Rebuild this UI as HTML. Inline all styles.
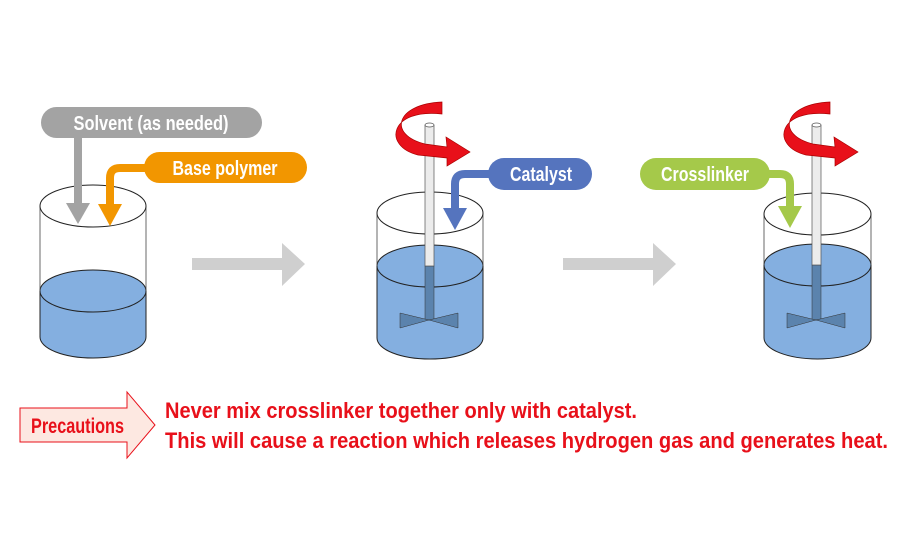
<!DOCTYPE html>
<html><head><meta charset="utf-8"><style>html,body{margin:0;padding:0;background:#fff}svg{display:block}text{font-family:"Liberation Sans Narrow","Liberation Sans",sans-serif;font-weight:bold}</style></head><body>
<svg width="900" height="550" viewBox="0 0 900 550" xmlns="http://www.w3.org/2000/svg">
<!-- Beaker 1 -->
<path d="M40,291 L40,337 A53,21 0 0 0 146,337 L146,291 Z" fill="#84afe0" stroke="#222" stroke-width="1"/>
<ellipse cx="93" cy="291" rx="53" ry="21" fill="#84afe0" stroke="#222" stroke-width="1"/>
<line x1="40" y1="206" x2="40" y2="291" stroke="#444" stroke-width="0.8"/>
<line x1="146" y1="206" x2="146" y2="291" stroke="#444" stroke-width="0.8"/>
<ellipse cx="93" cy="206" rx="53" ry="21" fill="none" stroke="#222" stroke-width="1"/>
<!-- solvent -->
<rect x="41" y="107" width="221" height="31" rx="15.5" fill="#a3a3a3"/>
<text x="151" y="130" text-anchor="middle" font-size="20" fill="#fff" textLength="155" lengthAdjust="spacingAndGlyphs">Solvent (as needed)</text>
<rect x="74" y="138" width="8" height="66" fill="#a3a3a3"/>
<polygon points="66,203 90,203 78,224" fill="#a3a3a3"/>
<!-- base polymer -->
<rect x="144" y="152" width="163" height="31" rx="15.5" fill="#f29600"/>
<text x="225" y="175" text-anchor="middle" font-size="20" fill="#fff" textLength="105" lengthAdjust="spacingAndGlyphs">Base polymer</text>
<path d="M150,168 L120,168 Q110,168 110,178 L110,206" fill="none" stroke="#f29600" stroke-width="8"/>
<polygon points="98,204 122,204 110,226" fill="#f29600"/>
<!-- gray arrows -->
<polygon points="192,258 282,258 282,243 305,264 282,286 282,270 192,270" fill="#cfcfcf"/>
<polygon points="563,258 653,258 653,243 676,264 653,286 653,270 563,270" fill="#cfcfcf"/>
<!-- Beaker 2 -->
<path d="M377,266 L377,338 A53,21 0 0 0 483,338 L483,266 Z" fill="#84afe0" stroke="#222" stroke-width="1"/>
<ellipse cx="430" cy="266" rx="53" ry="21" fill="#84afe0" stroke="#222" stroke-width="1"/>
<rect x="425" y="266" width="9" height="54" fill="#5b83ad" stroke="#333" stroke-width="0.5"/>
<polygon points="400,313 429,320 400,328" fill="#5b83ad" stroke="#333" stroke-width="0.5"/>
<polygon points="458,313 429,320 458,328" fill="#5b83ad" stroke="#333" stroke-width="0.5"/>
<line x1="377" y1="213" x2="377" y2="266" stroke="#444" stroke-width="0.8"/>
<line x1="483" y1="213" x2="483" y2="266" stroke="#444" stroke-width="0.8"/>
<ellipse cx="430" cy="213" rx="53" ry="21" fill="none" stroke="#222" stroke-width="1"/>
<rect x="425" y="125" width="9" height="141" fill="#ececec" stroke="#555" stroke-width="0.7"/>
<ellipse cx="429.5" cy="125" rx="4.5" ry="2" fill="#fff" stroke="#555" stroke-width="0.7"/>
<path d="M442,102 C395,104 388,135 425,144 L447,147 L446,137 L470,152 L447,166 L447,158 L418,155 C382,146 390,108 442,114 Z" fill="#e8101a" stroke="#a00" stroke-width="0.7"/>
<!-- catalyst -->
<rect x="488" y="158" width="104" height="32" rx="16" fill="#5574be"/>
<text x="541" y="181" text-anchor="middle" font-size="20" fill="#fff" textLength="62" lengthAdjust="spacingAndGlyphs">Catalyst</text>
<path d="M495,174 L465,174 Q455,174 455,184 L455,210" fill="none" stroke="#5574be" stroke-width="8"/>
<polygon points="443,208 467,208 455,230" fill="#5574be"/>
<!-- Beaker 3 -->
<path d="M764,265 L764,338 A53.5,21 0 0 0 871,338 L871,265 Z" fill="#84afe0" stroke="#222" stroke-width="1"/>
<ellipse cx="817.5" cy="265" rx="53.5" ry="21" fill="#84afe0" stroke="#222" stroke-width="1"/>
<rect x="812" y="265" width="9" height="55" fill="#5b83ad" stroke="#333" stroke-width="0.5"/>
<polygon points="787,313 816,320 787,328" fill="#5b83ad" stroke="#333" stroke-width="0.5"/>
<polygon points="845,313 816,320 845,328" fill="#5b83ad" stroke="#333" stroke-width="0.5"/>
<line x1="764" y1="214" x2="764" y2="265" stroke="#444" stroke-width="0.8"/>
<line x1="871" y1="214" x2="871" y2="265" stroke="#444" stroke-width="0.8"/>
<ellipse cx="817.5" cy="214" rx="53.5" ry="21" fill="none" stroke="#222" stroke-width="1"/>
<rect x="812" y="125" width="9" height="140" fill="#ececec" stroke="#555" stroke-width="0.7"/>
<ellipse cx="816.5" cy="125" rx="4.5" ry="2" fill="#fff" stroke="#555" stroke-width="0.7"/>
<path d="M830,102 C783,104 776,135 813,144 L835,147 L834,137 L858,152 L835,166 L835,158 L806,155 C770,146 778,108 830,114 Z" fill="#e8101a" stroke="#a00" stroke-width="0.7"/>
<!-- crosslinker -->
<rect x="640" y="158" width="130" height="32" rx="16" fill="#a5c94a"/>
<text x="705" y="181" text-anchor="middle" font-size="20" fill="#fff" textLength="88" lengthAdjust="spacingAndGlyphs">Crosslinker</text>
<path d="M765,174 L780,174 Q790,174 790,184 L790,208" fill="none" stroke="#a5c94a" stroke-width="8"/>
<polygon points="778,206 802,206 790,228" fill="#a5c94a"/>
<!-- precautions -->
<polygon points="20,408 127,408 127,392 155,425 127,458 127,442 20,442" fill="#fde8e1" stroke="#e8101a" stroke-width="1"/>
<text x="31" y="433" font-size="21" fill="#e8101a" textLength="93" lengthAdjust="spacingAndGlyphs">Precautions</text>
<text x="165" y="418" font-size="22" fill="#e8101a" textLength="472" lengthAdjust="spacingAndGlyphs">Never mix crosslinker together only with catalyst.</text>
<text x="165" y="448" font-size="22" fill="#e8101a" textLength="723" lengthAdjust="spacingAndGlyphs">This will cause a reaction which releases hydrogen gas and generates heat.</text>
</svg>
</body></html>
